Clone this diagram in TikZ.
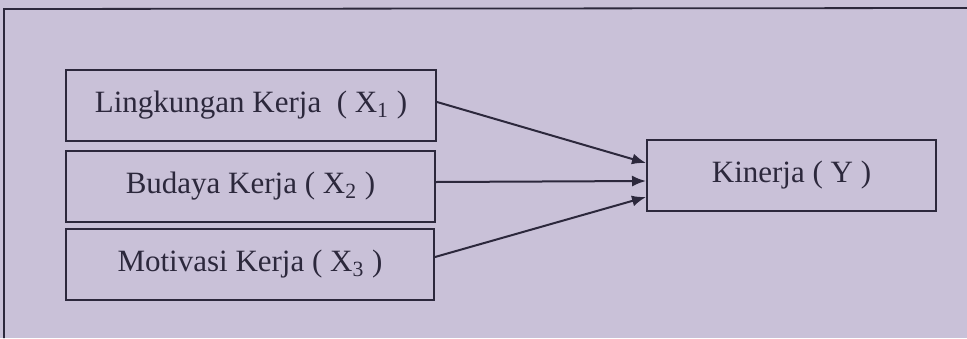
\documentclass[tikz,border=0pt]{standalone}
\usepackage{fontspec}
\setmainfont{Liberation Serif}
\usepackage{tikz}
\usetikzlibrary{arrows.meta,positioning}

\definecolor{paper}{RGB}{201,193,216}
\definecolor{ink}{RGB}{44,40,60}

\begin{document}
\begin{tikzpicture}[x=0.5pt,y=-0.5pt,
    varbox/.style={draw=ink, line width=1pt, inner sep=0pt, text=ink,
      font=\fontsize{15.5}{18}\selectfont},
    pathline/.style={draw=ink, line width=1pt, -{Latex[length=7pt,width=5.5pt]}}]
  \fill[paper] (0,0) rectangle (967,338);
  \useasboundingbox (0,0) rectangle (967,338);

  % outer frame (cut off at right and bottom)
  \draw[ink, line width=0.9pt] (4,338) -- (4,9) -- (967,8);

  % independent variables
  \node[varbox, minimum width=185pt, minimum height=35.5pt] (lk) at (251,105.5)
    {Lingkungan Kerja~ ( X\textsubscript{1} )};
  \node[varbox, minimum width=184.5pt, minimum height=35.5pt] (bk) at (250.5,186.5)
    {Budaya Kerja ( X\textsubscript{2} )};
  \node[varbox, minimum width=184pt, minimum height=35.5pt] (mk) at (250,264.5)
    {Motivasi Kerja ( X\textsubscript{3} )};

  % dependent variable
  \node[varbox, minimum width=144.5pt, minimum height=35.5pt] (kin) at (791.5,175.5)
    {Kinerja ( Y )};

  \draw[pathline] ([yshift=1.75pt]lk.east) -- ([yshift=6.25pt]kin.west);
  \draw[pathline] ([yshift=2.25pt]bk.east) -- ([yshift=-2.75pt]kin.west);
  \draw[pathline] ([yshift=3.75pt]mk.east) -- ([yshift=-10.75pt]kin.west);
\end{tikzpicture}
\end{document}
